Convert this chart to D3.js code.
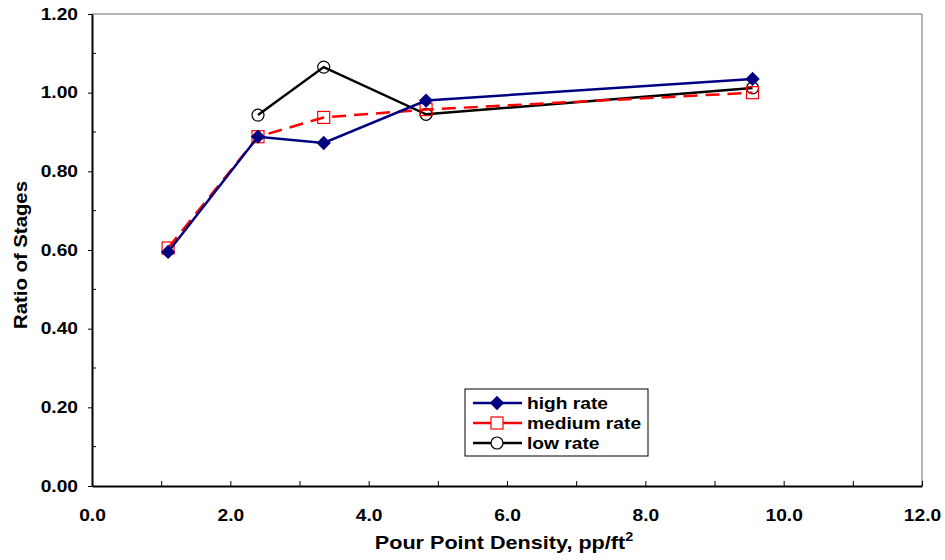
<!DOCTYPE html>
<html>
<head>
<meta charset="utf-8">
<script src="https://cdn.jsdelivr.net/npm/d3@7"></script>
<style>
  body { margin: 0; background: #fff; }
  text { font-family: "Liberation Sans", Arial, sans-serif; font-weight: bold; }
</style>
</head>
<body>
<div id="main_div"></div>
<script>
/** data **/
const highX = [1.1, 2.4, 3.35, 4.83, 9.55];
const highY = [0.595, 0.888, 0.872, 0.980, 1.035];
const medX = [1.1, 2.4, 3.35, 4.83, 9.55];
const medY = [0.605, 0.888, 0.937, 0.957, 1.000];
const lowX = [2.4, 3.35, 4.83, 9.55];
const lowY = [0.943, 1.065, 0.945, 1.012];
const xTicks = [0, 2, 4, 6, 8, 10, 12];
const yTicks = [0, 0.2, 0.4, 0.6, 0.8, 1.0, 1.2];
const seriesNames = ["high rate", "medium rate", "low rate"];

const size = [945, 560];
const plot = { left: 92, right: 922, top: 14, bottom: 486 };
const stretch = 1.2; // the original text is drawn wider than normal

let svg = d3.select("#main_div")
    .append("svg")
    .attr("width", size[0])
    .attr("height", size[1]);

let xScale = d3.scaleLinear().domain([0, 12]).range([plot.left, plot.right]);
let yScale = d3.scaleLinear().domain([0, 1.2]).range([plot.bottom, plot.top]);

/** frame: top / right grey, left / bottom black **/
svg.append("line")
    .attr("x1", plot.left).attr("x2", plot.right)
    .attr("y1", plot.top).attr("y2", plot.top)
    .attr("stroke", "#9a9a9a").attr("stroke-width", 1.5);
svg.append("line")
    .attr("x1", plot.right).attr("x2", plot.right)
    .attr("y1", plot.top).attr("y2", plot.bottom)
    .attr("stroke", "#9a9a9a").attr("stroke-width", 1.5);

/** x axis: ticks every 1.0, pointing inward **/
let xAxis = d3.axisBottom(xScale)
    .tickValues(d3.range(0, 12.01, 1))
    .tickSizeInner(-5).tickSizeOuter(0)
    .tickFormat(d => xTicks.includes(d) ? d3.format(".1f")(d) : "");
let xg = svg.append("g")
    .attr("transform", "translate(0," + plot.bottom + ")")
    .call(xAxis);
xg.select(".domain").attr("stroke", "#000").attr("stroke-width", 2);
xg.selectAll(".tick line").attr("stroke", "#000").attr("stroke-width", 1);
xg.selectAll(".tick text")
    .attr("y", 35)
    .attr("dy", 0)
    .attr("font-size", 16)
    .attr("fill", "#000")
    .attr("transform", "scale(" + stretch + ",1)")
    .style("font-family", "Liberation Sans, Arial, sans-serif")
    .style("font-weight", "bold");

/** y axis: major ticks outward, minor ticks inward **/
let yAxis = d3.axisLeft(yScale)
    .tickValues(yTicks)
    .tickSizeInner(4).tickSizeOuter(0)
    .tickFormat(d3.format(".2f"));
let yg = svg.append("g")
    .attr("transform", "translate(" + plot.left + ",0)")
    .call(yAxis);
yg.select(".domain").attr("stroke", "#000").attr("stroke-width", 2);
yg.selectAll(".tick line").attr("stroke", "#000");
yg.selectAll(".tick text")
    .attr("x", -14 / stretch)
    .attr("font-size", 16)
    .attr("fill", "#000")
    .attr("transform", "scale(" + stretch + ",1)")
    .style("font-family", "Liberation Sans, Arial, sans-serif")
    .style("font-weight", "bold");

let minorY = [0.1, 0.3, 0.5, 0.7, 0.9, 1.1];
svg.append("g").selectAll("line")
    .data(minorY).enter().append("line")
    .attr("x1", plot.left).attr("x2", plot.left + 4)
    .attr("y1", d => yScale(d)).attr("y2", d => yScale(d))
    .attr("stroke", "#000");

/** axis titles **/
let xt = svg.append("text")
    .attr("transform", "translate(" + 504 + ",549) scale(" + stretch + ",1)")
    .attr("text-anchor", "middle")
    .attr("font-size", 18);
xt.append("tspan").text("Pour Point Density, pp/ft");
xt.append("tspan").text("2").attr("font-size", 12).attr("dy", -8);

svg.append("text")
    .attr("transform", "translate(27,255) rotate(-90) scale(1.13,1)")
    .attr("text-anchor", "middle")
    .attr("font-size", 18)
    .text("Ratio of Stages");

/** series **/
const series = [
    { x: highX, y: highY, color: "#000080", dash: null, marker: "diamond" },
    { x: medX, y: medY, color: "#ff0000", dash: "14,8", marker: "square" },
    { x: lowX, y: lowY, color: "#000000", dash: null, marker: "circle" }
];

let line = d3.line().x(d => xScale(d[0])).y(d => yScale(d[1]));

function drawMarker(g, type, color, cx, cy, fill) {
    if (type === "diamond") {
        g.append("path")
            .attr("d", d3.symbol().type(d3.symbolDiamond2).size(130)())
            .attr("transform", "translate(" + cx + "," + cy + ")")
            .attr("fill", color);
    } else if (type === "square") {
        g.append("rect")
            .attr("x", cx - 6).attr("y", cy - 6)
            .attr("width", 12).attr("height", 12)
            .attr("fill", fill || "none").attr("stroke", color).attr("stroke-width", 1.2);
    } else {
        g.append("circle")
            .attr("cx", cx).attr("cy", cy).attr("r", 6)
            .attr("fill", fill || "none").attr("stroke", color).attr("stroke-width", 1.2);
    }
}

// draw low, medium, high order so high sits on top like the original
[2, 1, 0].forEach(function (i) {
    let s = series[i];
    let pts = s.x.map((v, k) => [v, s.y[k]]);
    let g = svg.append("g");
    g.append("path")
        .attr("d", line(pts))
        .attr("fill", "none")
        .attr("stroke", s.color)
        .attr("stroke-width", 2.5)
        .attr("stroke-dasharray", s.dash);
    pts.forEach(p => drawMarker(g, s.marker, s.color, xScale(p[0]), yScale(p[1])));
});

/** legend **/
let lg = svg.append("g");
lg.append("rect")
    .attr("x", 465).attr("y", 389)
    .attr("width", 183).attr("height", 67)
    .attr("fill", "#fff").attr("stroke", "#000").attr("stroke-width", 1);
series.forEach(function (s, i) {
    let yy = 403 + i * 20;
    lg.append("line")
        .attr("x1", 473).attr("x2", 522)
        .attr("y1", yy).attr("y2", yy)
        .attr("stroke", s.color).attr("stroke-width", 2.5);
    drawMarker(lg, s.marker, s.color, 497, yy, "#fff");
    lg.append("text")
        .attr("transform", "translate(527," + (yy + 6) + ") scale(" + stretch + ",1)")
        .attr("font-size", 16)
        .text(seriesNames[i]);
});
</script>
</body>
</html>
